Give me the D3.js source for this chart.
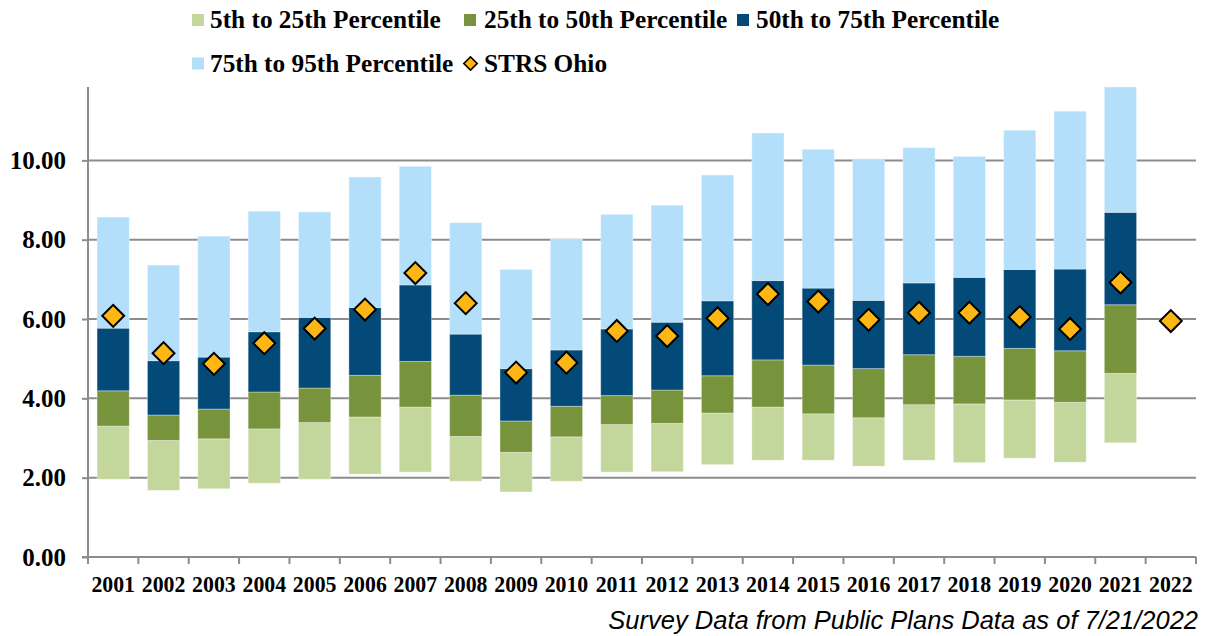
<!DOCTYPE html>
<html>
<head>
<meta charset="utf-8">
<script src="https://cdn.jsdelivr.net/npm/d3@7"></script>
<style>
  html, body { margin: 0; padding: 0; background: #fff; overflow: hidden; }
  svg { display: block; overflow: visible; }
</style>
</head>
<body>
<div id="chart"></div>
<script>
// values
const years = ["2001","2002","2003","2004","2005","2006","2007","2008","2009","2010","2011",
               "2012","2013","2014","2015","2016","2017","2018","2019","2020","2021","2022"];
const p5  = [1.96,1.68,1.72,1.86,1.96,2.09,2.14,1.91,1.64,1.91,2.14,2.15,2.33,2.44,2.44,2.29,2.44,2.38,2.49,2.39,2.88,null];
const p25 = [3.30,2.94,2.98,3.23,3.39,3.53,3.78,3.04,2.64,3.03,3.34,3.37,3.63,3.78,3.61,3.51,3.84,3.86,3.96,3.90,4.63,null];
const p50 = [4.19,3.58,3.73,4.16,4.26,4.58,4.93,4.08,3.43,3.80,4.07,4.21,4.57,4.97,4.84,4.75,5.10,5.06,5.26,5.20,6.36,null];
const p75 = [5.77,4.95,5.04,5.68,6.04,6.29,6.86,5.62,4.75,5.22,5.75,5.92,6.46,6.97,6.78,6.47,6.91,7.05,7.25,7.26,8.69,null];
const p95 = [8.57,7.36,8.09,8.72,8.70,9.58,9.85,8.43,7.25,8.02,8.64,8.87,9.63,10.69,10.28,10.04,10.32,10.10,10.76,11.24,11.85,null];
const strs = [6.08,5.14,4.87,5.39,5.76,6.24,7.16,6.40,4.65,4.90,5.70,5.57,6.02,6.63,6.44,5.98,6.16,6.16,6.05,5.75,6.92,5.95];
const yTicks = [0, 2, 4, 6, 8, 10];

const bands = [
  { name: "5th to 25th Percentile",  lo: p5,  hi: p25, color: "#C3D69B" },
  { name: "25th to 50th Percentile", lo: p25, hi: p50, color: "#77933C" },
  { name: "50th to 75th Percentile", lo: p50, hi: p75, color: "#034A78" },
  { name: "75th to 95th Percentile", lo: p75, hi: p95, color: "#B3DFFB" }
];

const width = 1206, height = 636;
const margin = { top: 87, right: 10, bottom: 79, left: 88 };
const innerWidth  = width - margin.left - margin.right;
const innerHeight = height - margin.top - margin.bottom;

const svg = d3.select("#chart")
  .append("svg")
    .attr("width", width)
    .attr("height", height)
    .attr("viewBox", `0 0 ${width} ${height}`);

const g = svg.append("g")
    .attr("transform", `translate(${margin.left},${margin.top})`);

const x = d3.scaleBand()
    .domain(years)
    .range([0, innerWidth])
    .paddingInner(0.36)
    .paddingOuter(0.18);

const y = d3.scaleLinear()
    .domain([0, 11.85])
    .range([innerHeight, 0]);

const serif = "'Liberation Serif', 'Times New Roman', serif";

// grid lines
g.append("g")
  .selectAll("line")
  .data(yTicks.filter(d => d > 0))
  .join("line")
    .attr("x1", 0)
    .attr("x2", innerWidth)
    .attr("y1", d => y(d))
    .attr("y2", d => y(d))
    .attr("stroke", "#8C8C8C")
    .attr("stroke-width", 2);

// stacked floating bars
bands.forEach(b => {
  g.append("g")
    .selectAll("rect")
    .data(years.map((yr, i) => ({ yr, lo: b.lo[i], hi: b.hi[i] })).filter(d => d.lo != null))
    .join("rect")
      .attr("x", d => x(d.yr))
      .attr("width", x.bandwidth())
      .attr("y", d => y(d.hi))
      .attr("height", d => y(d.lo) - y(d.hi))
      .attr("fill", b.color)
      .attr("stroke", "rgba(255,255,255,0.35)")
      .attr("stroke-width", 1);
});

// axes
const yAxis = d3.axisLeft(y)
    .tickValues(yTicks)
    .tickFormat(d3.format(".2f"))
    .tickSize(6)
    .tickPadding(16);

g.append("g")
  .attr("class", "y-axis axis")
  .call(yAxis)
  .call(a => a.select(".domain").attr("stroke", "#8C8C8C").attr("stroke-width", 2)
               .attr("d", `M-6,${innerHeight}H0V0`))
  .call(a => a.selectAll("line").attr("stroke", "#8C8C8C").attr("stroke-width", 2))
  .call(a => a.selectAll("text")
      .attr("fill", "#000")
      .style("font-family", serif)
      .style("font-weight", "bold")
      .style("font-size", "25px"));

const xg = g.append("g")
  .attr("class", "x-axis axis")
  .attr("transform", `translate(0,${innerHeight})`);

xg.append("line")
  .attr("x1", 0).attr("x2", innerWidth)
  .attr("stroke", "#8C8C8C").attr("stroke-width", 2);

xg.selectAll(".tick-mark")
  .data(years.concat(["end"]))
  .join("line")
    .attr("class", "tick-mark")
    .attr("x1", (d, i) => i * x.step())
    .attr("x2", (d, i) => i * x.step())
    .attr("y1", 0)
    .attr("y2", 7)
    .attr("stroke", "#8C8C8C")
    .attr("stroke-width", 2);

xg.selectAll(".tick-label")
  .data(years)
  .join("text")
    .attr("class", "tick-label")
    .attr("transform", d => `translate(${x(d) + x.bandwidth() / 2},35) scale(1,1.06)`)
    .attr("text-anchor", "middle")
    .style("font-family", serif)
    .style("font-weight", "bold")
    .style("font-size", "21.8px")
    .text(d => d);

// STRS Ohio diamonds
const diamond = d3.symbol().type(d3.symbolSquare).size(240);

g.append("g")
  .selectAll("path")
  .data(years.map((yr, i) => ({ yr, v: strs[i] })))
  .join("path")
    .attr("d", diamond)
    .attr("transform", d => `translate(${x(d.yr) + x.bandwidth() / 2},${y(d.v)}) rotate(45)`)
    .attr("fill", "#FDB614")
    .attr("stroke", "#000")
    .attr("stroke-width", 2);

// legend
const legendItems = [
  { name: bands[0].name, color: bands[0].color, type: "rect",    mx: 192, tx: 210, y: 20 },
  { name: bands[1].name, color: bands[1].color, type: "rect",    mx: 464, tx: 484, y: 20 },
  { name: bands[2].name, color: bands[2].color, type: "rect",    mx: 737, tx: 756, y: 20 },
  { name: bands[3].name, color: bands[3].color, type: "rect",    mx: 192, tx: 210, y: 63.5 },
  { name: "STRS Ohio",   color: "#FDB614",      type: "diamond", mx: 470.5, tx: 484, y: 63.5 }
];

const legend = svg.append("g").attr("class", "legend");

legendItems.forEach(it => {
  if (it.type === "rect") {
    legend.append("rect")
      .attr("x", it.mx).attr("y", it.y - 6)
      .attr("width", 12).attr("height", 12)
      .attr("fill", it.color);
  } else {
    legend.append("path")
      .attr("d", d3.symbol().type(d3.symbolSquare).size(90)())
      .attr("transform", `translate(${it.mx},${it.y}) rotate(45)`)
      .attr("fill", it.color)
      .attr("stroke", "#000")
      .attr("stroke-width", 1.6);
  }
  legend.append("text")
    .attr("x", it.tx)
    .attr("y", it.y + 8)
    .style("font-family", serif)
    .style("font-weight", "bold")
    .style("font-size", "25.3px")
    .text(it.name);
});

// source note
svg.append("text")
  .attr("x", 1198)
  .attr("y", 629)
  .attr("text-anchor", "end")
  .style("font-family", "'Liberation Sans', Arial, sans-serif")
  .style("font-style", "italic")
  .style("font-size", "25.5px")
  .text("Survey Data from Public Plans Data as of 7/21/2022");
</script>
</body>
</html>
